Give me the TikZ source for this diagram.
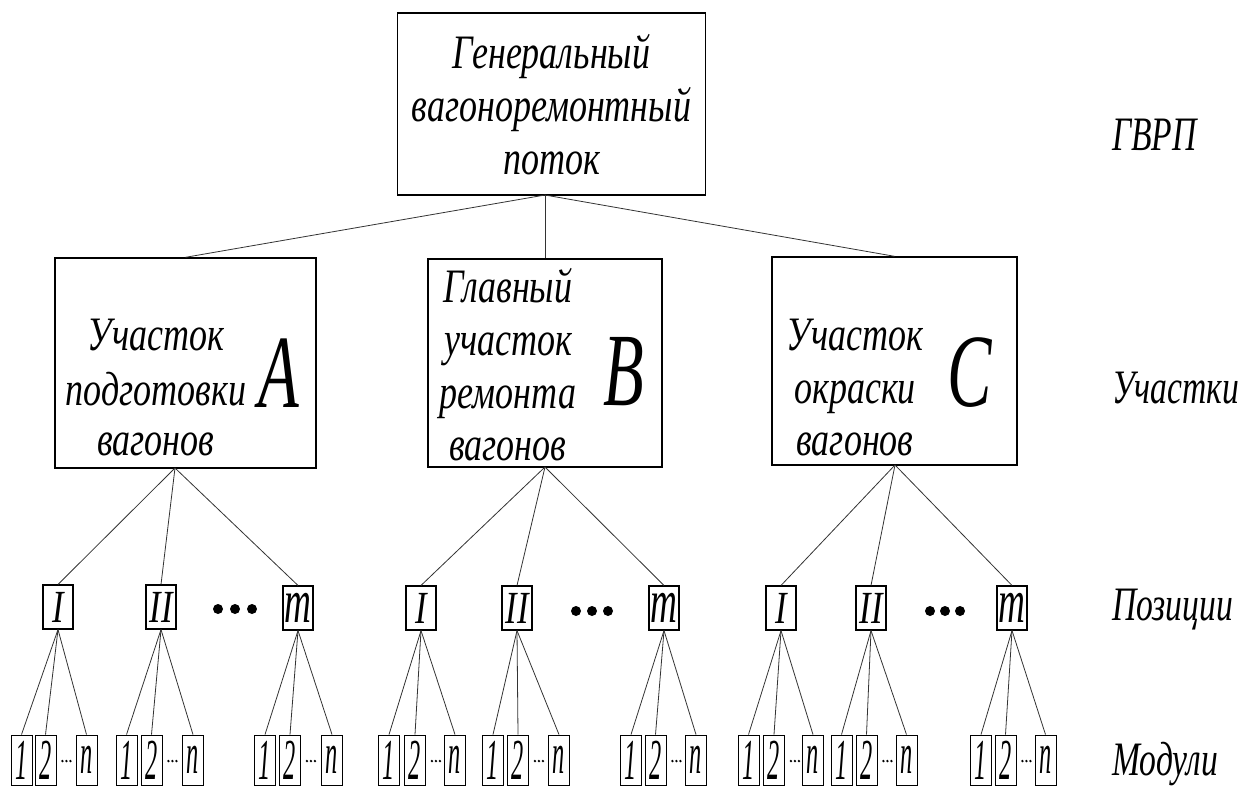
\documentclass[tikz,border=0pt]{standalone}
\usepackage{fontspec}
\setmainfont{Liberation Serif}
\newfontfamily\cf{Liberation Serif}[FakeStretch=0.75]
\newfontfamily\cfl{Liberation Serif}[FakeStretch=0.7]
\newfontfamily\cfn{Liberation Serif}[FakeStretch=0.6]
\newfontfamily\cfm{Liberation Serif}[FakeStretch=0.42]
\newfontfamily\cfb{Liberation Serif}[FakeStretch=0.64]
\begin{document}
\begin{tikzpicture}[x=1pt,y=-1pt,
  bigbox/.style={draw=black, line width=1.4pt, inner sep=0pt},
  posbox/.style={draw=black, line width=1.1pt, minimum width=30pt, minimum height=44pt, inner sep=0pt, font=\cf\itshape\fontsize{46}{46}\selectfont},
  mbox/.style={posbox, font=\cfn\itshape\fontsize{62}{62}\selectfont},
  modbox/.style={draw=black, line width=0.9pt, minimum width=21pt, minimum height=50pt, inner sep=0pt, font=\cfm\itshape\fontsize{58}{58}\selectfont},
  link/.style={draw=black!80, line width=0.8pt},
  txt/.style={anchor=base, inner sep=0pt, font=\cf\itshape\fontsize{48}{52}\selectfont},
  lbl/.style={anchor=base west, inner sep=0pt, font=\cfl\itshape\fontsize{48}{52}\selectfont},
  big/.style={anchor=base, inner sep=0pt, font=\cfb\itshape\fontsize{104}{104}\selectfont},
  bigdot/.style={fill=black, draw=none, circle, minimum size=10pt, inner sep=0pt},
  smalldot/.style={fill=black, draw=none, circle, minimum size=2.6pt, inner sep=0pt}
]
\useasboundingbox (0,0) rectangle (1247,788);

% top box
\node[bigbox, minimum width=308pt, minimum height=182pt] (top) at (551.5,104) {};
\node[txt] (t1) at (551.5,68) {Генеральный};
\node[txt] (t2) at (551.5,121) {вагоноремонтный};
\node[txt] (t3) at (551.5,174) {поток};
\coordinate (Tj) at (545,195);

% level 2
\node[bigbox, minimum width=261pt, minimum height=210pt] (A) at (185.5,363) {};
\node[bigbox, minimum width=234pt, minimum height=208pt] (B) at (545,363) {};
\node[bigbox, minimum width=245pt, minimum height=208pt] (C) at (894.5,361) {};
\coordinate (Aj) at (175,468);
\coordinate (Bj) at (545,467);
\coordinate (Cj) at (895,465);

\node[txt] (a1) at (156,350) {Участок};
\node[txt] (a2) at (156,405) {подготовки};
\node[txt] (a3) at (156,455) {вагонов};
\node[big] (aL) at (279,407) {A};

\node[txt] (b1) at (508,302) {Главный};
\node[txt] (b2) at (508,355) {участок};
\node[txt] (b3) at (508,408) {ремонта};
\node[txt] (b4) at (508,460) {вагонов};
\node[big] (bL) at (624,405) {B};

\node[txt] (c1) at (855,350) {Участок};
\node[txt] (c2) at (855,403) {окраски};
\node[txt] (c3) at (855,455) {вагонов};
\node[big] (cL) at (970,406) {C};

\draw[link] (Tj) -- (A.north);
\draw[link] (Tj) -- (B.north);
\draw[link] (Tj) -- (C.north);

% positions
\node[posbox] (pA1) at (58,607) {I};
\node[posbox] (pA2) at (161,607) {II};
\node[mbox] (pAm) at (298,608) {m};
\node[posbox] (pB1) at (421,608) {I};
\node[posbox] (pB2) at (517,608) {II};
\node[mbox] (pBm) at (664,608) {m};
\node[posbox] (pC1) at (781,608) {I};
\node[posbox] (pC2) at (871,608) {II};
\node[mbox] (pCm) at (1012,608) {m};

\foreach \x [count=\i] in {218,235,252} \node[bigdot] (dA\i) at (\x,609) {};
\foreach \x [count=\i] in {576,592,608} \node[bigdot] (dB\i) at (\x,611) {};
\foreach \x [count=\i] in {930,945,960} \node[bigdot] (dC\i) at (\x,611) {};

\foreach \p in {pA1,pA2,pAm} \draw[link] (Aj) -- (\p.north);
\foreach \p in {pB1,pB2,pBm} \draw[link] (Bj) -- (\p.north);
\foreach \p in {pC1,pC2,pCm} \draw[link] (Cj) -- (\p.north);

% modules
\foreach \g/\a/\b/\c in {A1/21.5/45.5/86.5, A2/126.5/151.5/193, Am/265/290/332,
                         B1/389/415/455, B2/493/518/559, Bm/631/655.5/696,
                         C1/748.5/774/813, C2/841.5/866.5/906.5, Cm/981/1005.5/1045.5}{
  \node[modbox] (m\g a) at (\a,760) {1};
  \node[modbox] (m\g b) at (\b,760) {2};
  \node[modbox] (m\g c) at (\c,760) {n};
  \foreach \k in {6,10,14} \node[smalldot] (s\g\k) at ([xshift=\k pt]m\g b.east |- 0,761) {};
  \draw[link] (p\g.south) -- (m\g a.north);
  \draw[link] (p\g.south) -- (m\g b.north);
  \draw[link] (p\g.south) -- (m\g c.north);
}

% level labels
\node[lbl] (l1) at (1112,150) {ГВРП};
\node[lbl] (l2) at (1112,403) {Участки};
\node[lbl] (l3) at (1112,620) {Позиции};
\node[lbl] (l4) at (1112,775) {Модули};
\end{tikzpicture}
\end{document}
